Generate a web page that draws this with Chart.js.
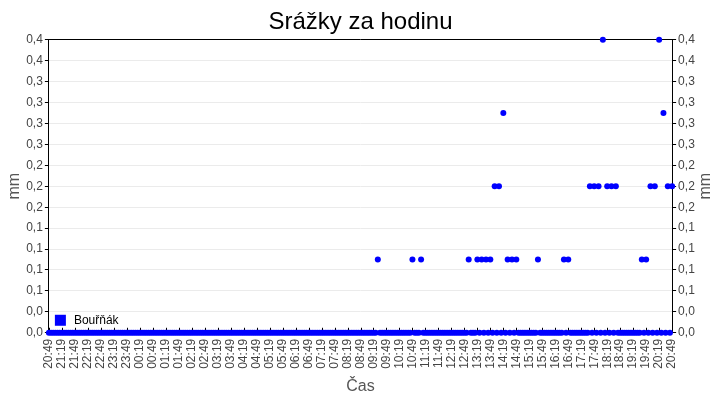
<!DOCTYPE html>
<html>
<head>
<meta charset="utf-8">
<title>Srážky za hodinu</title>
<script src="https://cdn.jsdelivr.net/npm/chart.js@4.4.1/dist/chart.umd.min.js"></script>
<style>
  body { margin: 0; background: #fff; }
  #rainChart { display: block; }
</style>
</head>
<body>
<canvas id="rainChart" width="720" height="400"></canvas>
<script>
// srazky [mm] po 5 minutach, od 20:49 do 20:49 dalsiho dne (1 radek = 1 hodina)
var seriesName = "Bouřňák";
var stepMinutes = 5;
var rainValues = [
	0, 0, 0, 0, 0, 0, 0, 0, 0, 0, 0, 0,
	0, 0, 0, 0, 0, 0, 0, 0, 0, 0, 0, 0,
	0, 0, 0, 0, 0, 0, 0, 0, 0, 0, 0, 0,
	0, 0, 0, 0, 0, 0, 0, 0, 0, 0, 0, 0,
	0, 0, 0, 0, 0, 0, 0, 0, 0, 0, 0, 0,
	0, 0, 0, 0, 0, 0, 0, 0, 0, 0, 0, 0,
	0, 0, 0, 0, 0, 0, 0, 0, 0, 0, 0, 0,
	0, 0, 0, 0, 0, 0, 0, 0, 0, 0, 0, 0,
	0, 0, 0, 0, 0, 0, 0, 0, 0, 0, 0, 0,
	0, 0, 0, 0, 0, 0, 0, 0, 0, 0, 0, 0,
	0, 0, 0, 0, 0, 0, 0, 0, 0, 0, 0, 0,
	0, 0, 0, 0, 0, 0, 0, 0, 0, 0, 0, 0,
	0, 0, 0, 0, 0, 0, 0, 0, 0.1, 0, 0, 0,
	0, 0, 0, 0, 0, 0, 0, 0, 0, 0, 0, 0,
	0.1, 0, 0, 0, 0.1, 0, 0, 0, 0, 0, 0, 0,
	0, 0, 0, 0, 0, 0, 0, 0, 0, 0, 0, 0,
	0, 0, 0.1, 0, 0, 0, 0.1, 0, 0.1, 0, 0.1, 0,
	0.1, 0, 0.2, 0, 0.2, 0, 0.3, 0, 0.1, 0, 0.1, 0,
	0.1, 0, 0, 0, 0, 0, 0, 0, 0, 0, 0.1, 0,
	0, 0, 0, 0, 0, 0, 0, 0, 0, 0, 0.1, 0,
	0.1, 0, 0, 0, 0, 0, 0, 0, 0, 0, 0.2, 0,
	0.2, 0, 0.2, 0, 0.4, 0, 0.2, 0, 0.2, 0, 0.2, 0,
	0, 0, 0, 0, 0, 0, 0, 0, 0, 0, 0.1, 0,
	0.1, 0, 0.2, 0, 0.2, 0, 0.4, 0, 0.3, 0, 0.2, 0,
	0.2
];
// popisky osy x po 30 minutach
var tickStep = 30;
var tickLabels = [
	"20:49", "21:19", "21:49", "22:19", "22:49", "23:19", "23:49",
	"00:19", "00:49", "01:19", "01:49", "02:19", "02:49", "03:19", "03:49",
	"04:19", "04:49", "05:19", "05:49", "06:19", "06:49", "07:19", "07:49",
	"08:19", "08:49", "09:19", "09:49", "10:19", "10:49", "11:19", "11:49",
	"12:19", "12:49", "13:19", "13:49", "14:19", "14:49", "15:19", "15:49",
	"16:19", "16:49", "17:19", "17:49", "18:19", "18:49", "19:19", "19:49",
	"20:19", "20:49"
];
var yMax = 0.4;
var ySteps = 14;

var FONT = "'Liberation Sans', Arial, sans-serif";
var BLUE = "#0000ff";
var TICK_GRAY = "#444";
var TITLE_GRAY = "#555";

function fmtMm(v) {
	return v.toFixed(1).replace(".", ",");
}

// same ticks on both y axes
function buildYTicks(scale) {
	var t = [];
	for (var i = 0; i <= ySteps; i++) {
		t.push({ value: yMax * i / ySteps });
	}
	scale.ticks = t;
}

// extras: legend inside the plot, inward x ticks, right "mm" read bottom-up
var extras = {
	id: "extras",
	beforeDatasetsDraw: function (chart) {
		var a = chart.chartArea;
		var ctx = chart.ctx;
		var xs = chart.scales.x;
		ctx.save();
		ctx.strokeStyle = "#000";
		ctx.lineWidth = 1;
		xs.ticks.forEach(function (t) {
			var px = Math.round(xs.getPixelForValue(t.value)) + 0.5;
			ctx.beginPath();
			ctx.moveTo(px, a.bottom);
			ctx.lineTo(px, a.bottom - 5);
			ctx.stroke();
		});
		ctx.fillStyle = BLUE;
		ctx.fillRect(a.left + 6, a.bottom - 18, 11, 11);
		ctx.fillStyle = "#000";
		ctx.font = "12px " + FONT;
		ctx.textBaseline = "middle";
		ctx.fillText(seriesName, a.left + 25, a.bottom - 12);
		ctx.restore();
	},
	afterDraw: function (chart) {
		var a = chart.chartArea;
		var ctx = chart.ctx;
		var ys = chart.scales.y2;
		ctx.save();
		ctx.translate(ys.right - 10, (a.top + a.bottom) / 2);
		ctx.rotate(-Math.PI / 2);
		ctx.fillStyle = TITLE_GRAY;
		ctx.font = "16px " + FONT;
		ctx.textAlign = "center";
		ctx.textBaseline = "middle";
		ctx.fillText("mm", 0, 0);
		ctx.restore();
	}
};

var points = rainValues.map(function (v, i) {
	return { x: i * stepMinutes, y: v };
});
var xMax = (tickLabels.length - 1) * tickStep;

var yCommon = function (pos, grid, titleColor) {
	return {
		type: "linear",
		position: pos,
		min: 0,
		max: yMax,
		afterBuildTicks: buildYTicks,
		ticks: {
			callback: function (v) { return fmtMm(v); },
			color: TICK_GRAY,
			font: { family: FONT, size: 12 },
			padding: 2
		},
		grid: {
			drawOnChartArea: grid,
			color: "#ebebeb",
			tickColor: "#000",
			tickLength: 4
		},
		border: { color: "#000" },
		title: {
			display: true,
			text: "mm",
			color: titleColor,
			font: { family: FONT, size: 16 },
			padding: 0
		}
	};
};

new Chart("rainChart", {
	type: "scatter",
	data: {
		datasets: [{
			label: seriesName,
			data: points,
			xAxisID: "x",
			yAxisID: "y",
			backgroundColor: BLUE,
			borderColor: BLUE,
			pointRadius: 3,
			pointHoverRadius: 3,
			borderWidth: 0,
			showLine: false,
			clip: false
		}]
	},
	options: {
		responsive: false,
		animation: false,
		layout: { padding: { left: 5, right: 4, top: 0, bottom: 2 } },
		plugins: {
			legend: { display: false },
			tooltip: { enabled: false },
			title: {
				display: true,
				text: "Srážky za hodinu",
				color: "#000",
				font: { family: FONT, size: 24, weight: "normal" },
				padding: { top: 8, bottom: 3 }
			}
		},
		scales: {
			x: {
				type: "linear",
				position: "bottom",
				min: 0,
				max: xMax,
				ticks: {
					stepSize: tickStep,
					autoSkip: false,
					minRotation: 90,
					maxRotation: 90,
					color: TICK_GRAY,
					font: { family: FONT, size: 12 },
					padding: 6,
					callback: function (v) { return tickLabels[Math.round(v / tickStep)]; }
				},
				grid: { drawOnChartArea: false, drawTicks: false },
				border: { color: "#000" },
				title: {
					display: true,
					text: "Čas",
					color: TITLE_GRAY,
					font: { family: FONT, size: 16 },
					padding: 2
				}
			},
			xTop: {
				type: "linear",
				position: "top",
				min: 0,
				max: xMax,
				ticks: { display: false },
				grid: { drawOnChartArea: false, drawTicks: false },
				border: { color: "#000" }
			},
			y: yCommon("left", true, TITLE_GRAY),
			y2: yCommon("right", false, "rgba(0,0,0,0)")
		}
	},
	plugins: [extras]
});
</script>
</body>
</html>
